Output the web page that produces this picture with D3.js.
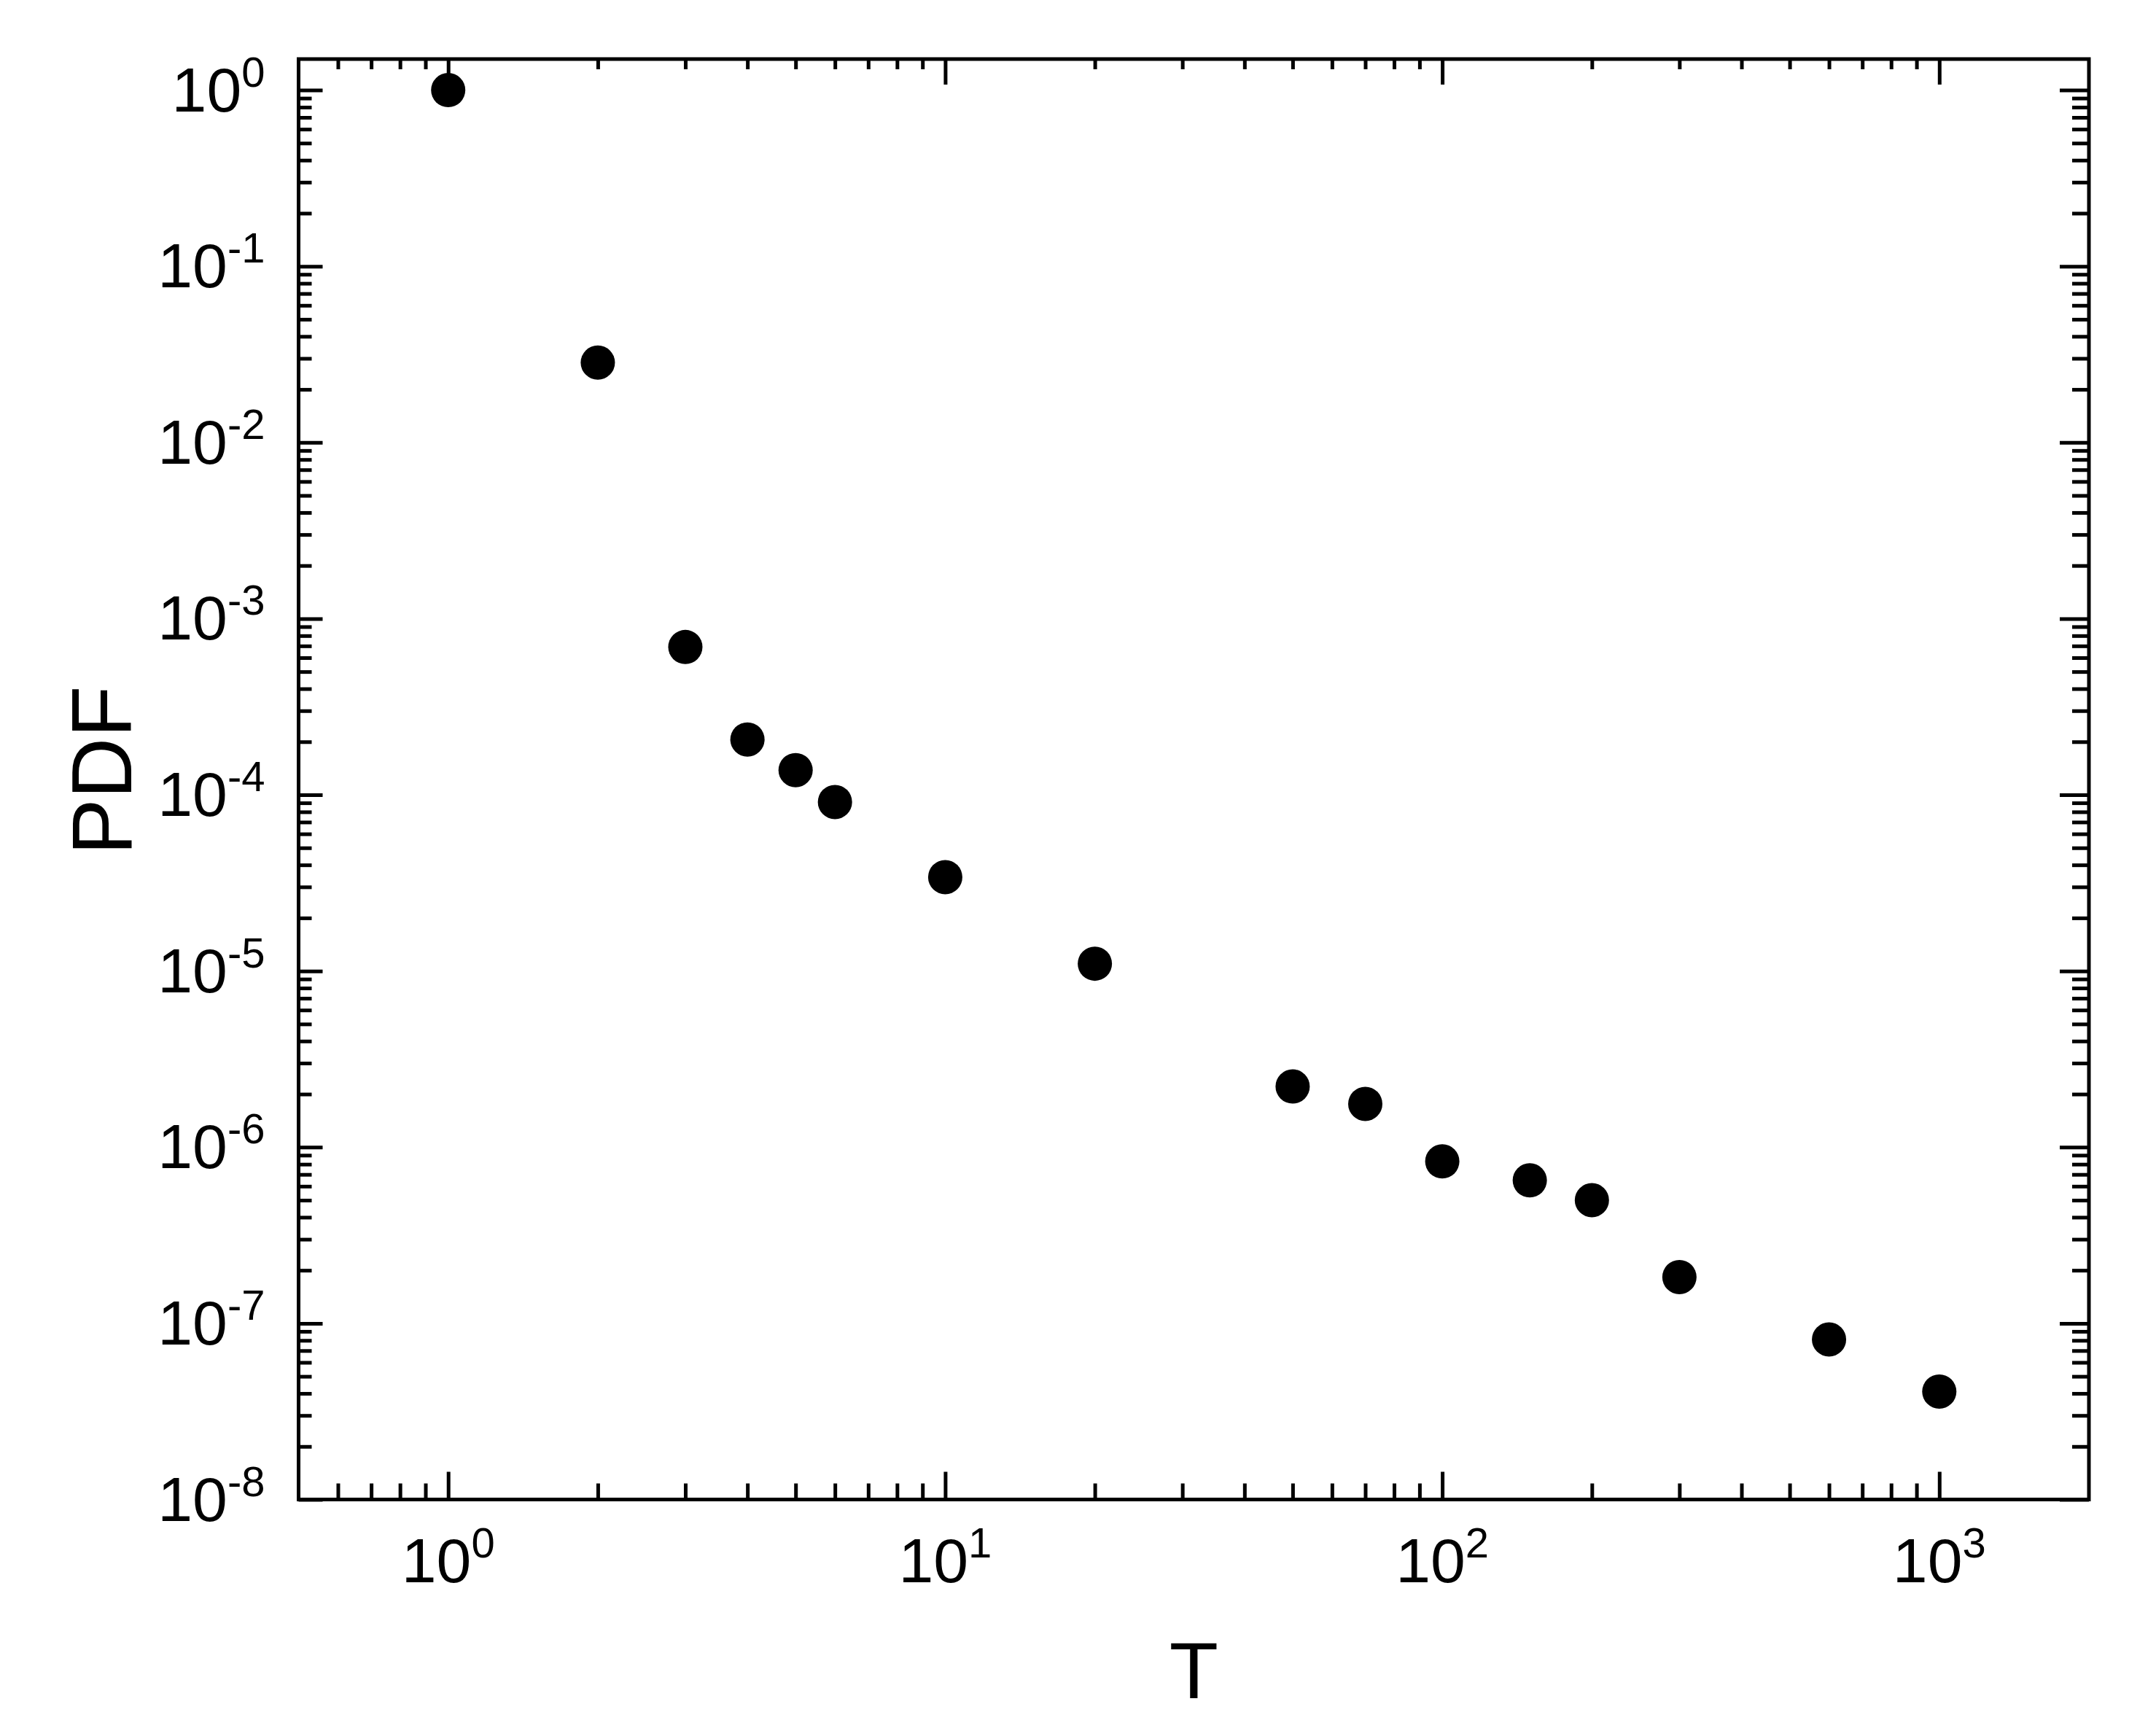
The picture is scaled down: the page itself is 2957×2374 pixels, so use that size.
<!DOCTYPE html>
<html>
<head>
<meta charset="utf-8">
<script src="https://cdn.jsdelivr.net/npm/d3@7"></script>
<style>
  body { margin: 0; background: #fff; }
  svg { display: block; }
  text { font-family: "Liberation Sans", Arial, sans-serif; fill: #000; }
</style>
</head>
<body>
<div id="chart"></div>
<script>
// data
var tValues = [1, 2, 3, 4, 5, 6, 10, 20, 50, 70, 100, 150, 200, 300, 600, 1000];
var pdfValues = [1.0, 0.0284, 6.9e-4, 2.06e-4, 1.38e-4, 9.1e-5, 3.41e-5, 1.10e-5,
  2.21e-6, 1.76e-6, 8.3e-7, 6.48e-7, 5.0e-7, 1.83e-7, 8.1e-8, 4.1e-8];

var xDomain = [0.5, 2000],
  yDomain = [1e-8, 1.5];
var xTickExps = [0, 1, 2, 3],
  yTickExps = [0, -1, -2, -3, -4, -5, -6, -7, -8];
var minorSteps = [2, 3, 4, 5, 6, 7, 8, 9];
var xTitle = "T",
  yTitle = "PDF";

var W = 2957, H = 2374;
var margin = { top: 81, right: 92, bottom: 317.5, left: 409.5 },
  width = W - margin.left - margin.right,
  height = H - margin.top - margin.bottom;

var x = d3.scaleLog().domain(xDomain).range([0, width]),
  y = d3.scaleLog().domain(yDomain).range([height, 0]);

function minorsFor(exps, dom) {
  var out = [];
  exps.concat([d3.min(exps) - 1]).forEach(function(e) {
    minorSteps.forEach(function(m) {
      var v = m * Math.pow(10, e);
      if (v > dom[0] && v < dom[1]) out.push(v);
    });
  });
  return out;
}
var xMajor = xTickExps.map(function(e) { return Math.pow(10, e); }),
  yMajor = yTickExps.map(function(e) { return Math.pow(10, e); }),
  xMinor = minorsFor(xTickExps, xDomain),
  yMinor = minorsFor(yTickExps, yDomain);

var svg = d3.select("#chart").append("svg")
  .attr("width", W)
  .attr("height", H);

svg.append("rect").attr("width", W).attr("height", H).attr("fill", "#fff");

var g = svg.append("g")
  .attr("transform", "translate(" + margin.left + "," + margin.top + ")");

// tick marks, all pointing inward
function tickAxis(axis, values, size, tr) {
  var a = g.append("g")
    .attr("class", "ticks")
    .attr("transform", tr || null)
    .call(axis.tickValues(values).tickSizeInner(size).tickSizeOuter(0).tickFormat(""));
  a.select(".domain").remove();
  a.selectAll("line").attr("stroke", "#000").attr("stroke-width", 5);
}

tickAxis(d3.axisBottom(x), xMajor, -38, "translate(0," + height + ")");
tickAxis(d3.axisBottom(x), xMinor, -22, "translate(0," + height + ")");
tickAxis(d3.axisTop(x), xMajor, -35);
tickAxis(d3.axisTop(x), xMinor, -14);
tickAxis(d3.axisLeft(y), yMajor, -33);
tickAxis(d3.axisLeft(y), yMinor, -18);
tickAxis(d3.axisRight(y), yMajor, -40, "translate(" + width + ",0)");
tickAxis(d3.axisRight(y), yMinor, -23, "translate(" + width + ",0)");

// frame
g.append("rect")
  .attr("width", width)
  .attr("height", height)
  .attr("fill", "none")
  .attr("stroke", "#000")
  .attr("stroke-width", 5);

// tick labels 10^n
function powLabel(sel) {
  sel.append("tspan").text("10");
  sel.append("tspan")
    .attr("dy", -34)
    .attr("font-size", 58)
    .text(function(e) { return e < 0 ? "-" + (-e) : "" + e; });
}

g.selectAll(".xlab")
  .data(xTickExps)
  .enter().append("text")
  .attr("class", "xlab")
  .attr("x", function(e) { return x(Math.pow(10, e)); })
  .attr("y", height + 113)
  .attr("text-anchor", "middle")
  .attr("font-size", 86)
  .call(powLabel);

g.selectAll(".ylab")
  .data(yTickExps)
  .enter().append("text")
  .attr("class", "ylab")
  .attr("x", -46)
  .attr("y", function(e) { return y(Math.pow(10, e)) + 29; })
  .attr("text-anchor", "end")
  .attr("font-size", 86)
  .call(powLabel);

// axis titles
g.append("text")
  .attr("x", width / 2)
  .attr("y", height + 272)
  .attr("text-anchor", "middle")
  .attr("font-size", 110)
  .text(xTitle);

g.append("text")
  .attr("transform", "translate(" + (180 - margin.left) + "," + (height / 2 - 12) + ") rotate(-90)")
  .attr("text-anchor", "middle")
  .attr("font-size", 116)
  .text(yTitle);

// points
g.selectAll(".dot")
  .data(tValues)
  .enter().append("circle")
  .attr("class", "dot")
  .attr("cx", function(d) { return x(d); })
  .attr("cy", function(d, i) { return y(pdfValues[i]); })
  .attr("r", 23.5)
  .attr("fill", "#000");
</script>
</body>
</html>
